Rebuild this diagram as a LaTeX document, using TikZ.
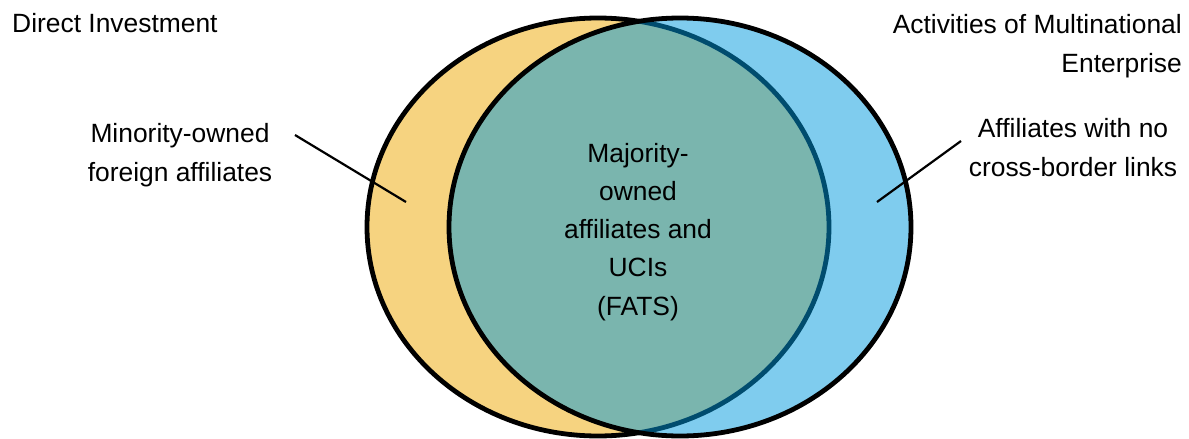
\documentclass[tikz,border=0pt]{standalone}
\usepackage{fontspec}
\setmainfont{Liberation Sans}
\definecolor{diyellow}{RGB}{246,211,128}
\definecolor{mneblue}{RGB}{0,153,221}
\begin{document}
\begin{tikzpicture}[x=1pt,y=-1pt,
  lbl/.style={font=\fontsize{26.4}{38.2}\selectfont, inner sep=0pt, align=center},
  ring/.style={draw=black, line width=4.8pt},
  leader/.style={draw=black, line width=2.2pt}]
\useasboundingbox (0,0) rectangle (1189,439);
% ellipses
\path[ring, fill=diyellow] (598,227) ellipse [x radius=231, y radius=209];
\path[ring, fill=mneblue, fill opacity=0.5] (680,227) ellipse [x radius=231, y radius=209];
% labels (base anchor = baseline of last line)
\node[lbl, anchor=base west] (di) at (12,32) {Direct Investment};
\node[lbl, anchor=base east, align=right] (mne) at (1182,72) {Activities of Multinational\\Enterprise};
\node[lbl, anchor=base] (mino) at (180,181) {Minority-owned\\foreign affiliates};
\node[lbl, anchor=base] (nolink) at (1073,176) {Affiliates with no\\cross-border links};
\node[lbl, anchor=base] (fats) at (638,315) {Majority-\\owned\\affiliates and\\UCIs\\(FATS)};
% leaders
\coordinate (minoS) at (295,135);
\coordinate (minoE) at (406,202);
\coordinate (nolS) at (961,141);
\coordinate (nolE) at (877,202);
\draw[leader] (minoS) -- (minoE);
\draw[leader] (nolS) -- (nolE);
\end{tikzpicture}
\end{document}
